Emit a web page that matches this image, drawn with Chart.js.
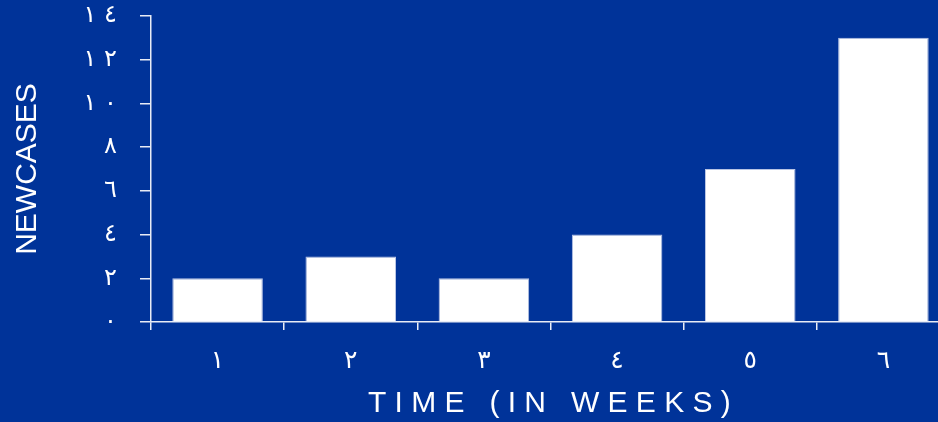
<!DOCTYPE html>
<html><head><meta charset="utf-8">
<script src="https://cdn.jsdelivr.net/npm/chart.js@4"></script>
<style>
html,body{margin:0;padding:0;background:#003399;overflow:hidden;width:938px;height:422px}
#wrap{position:absolute;left:0;top:0;width:960px;height:422px}
</style></head>
<body><div id="wrap"><canvas id="c" width="960" height="422"></canvas></div>
<script>
const categories = ['١','٢','٣','٤','٥','٦'];
const newCases = [2, 3, 2, 4, 7, 13];
const yTickLabels = ['٠','٢','٤','٦','٨','١٠','١٢','١٤'];
const xTitle = 'TIME (IN WEEKS)';
const yTitle = 'NEWCASES';

// wide spacing for the x title (canvas letterSpacing)
const spacingPlugin = {
  id: 'spacing',
  afterUpdate(chart) {
    const x = chart.scales.x;
    if (x && !x._wrapped) {
      const orig = x.drawTitle;
      x.drawTitle = function () {
        const ctx = this.ctx; ctx.save(); ctx.letterSpacing = '8.3px';
        ctx.translate(3, 0);
        orig.call(this); ctx.restore();
      };
      x._wrapped = true;
    }
  }
};

// digits of multi-digit tick labels are shown spread apart (no-break space keeps digit order)
const spreadDigits = (s) => s.split('').join('\u00A0');

new Chart(document.getElementById('c'), {
  type: 'bar',
  data: {
    labels: categories,
    datasets: [{
      data: newCases,
      backgroundColor: '#ffffff',
      borderColor: '#b8c4e4',
      borderWidth: 1,
      barPercentage: 0.68,
      categoryPercentage: 1.0
    }]
  },
  options: {
    responsive: false,
    animation: false,
    layout: { padding: { left: 0, top: 16, right: 10, bottom: 0 } },
    plugins: { legend: { display: false }, tooltip: { enabled: false } },
    scales: {
      x: {
        grid: { display: true, drawOnChartArea: false, drawTicks: true, tickLength: 8, color: '#e8ecf6', lineWidth: 1.5, offset: true },
        border: { display: true, color: '#e8ecf6', width: 1.5 },
        ticks: { color: '#ffffff', font: { family: 'DejaVu Sans', size: 25 }, padding: 16, maxRotation: 0 },
        title: { display: true, text: xTitle, color: '#ffffff', font: { family: '"Liberation Sans", Arial', size: 30 }, padding: { top: 0, bottom: 0 } },
        afterFit(scale) { scale.height = 100; scale.paddingLeft = 0; scale.paddingRight = 0; }
      },
      y: {
        min: 0, max: 14,
        ticks: { stepSize: 2, color: '#ffffff', font: { family: 'DejaVu Sans', size: 24 }, padding: 23,
          callback: (v) => spreadDigits(yTickLabels[Math.round(v / 2)]) },
        grid: { display: true, drawOnChartArea: false, drawTicks: true, tickLength: 11, color: '#e8ecf6', lineWidth: 1.5 },
        border: { display: true, color: '#e8ecf6', width: 1.5 },
        title: { display: true, text: yTitle, color: '#ffffff', font: { family: '"Liberation Sans", Arial', size: 30 }, padding: { top: 10, bottom: 0 } },
        afterFit(scale) { scale.width = 151; scale.paddingTop = 0; scale.paddingBottom = 0; }
      }
    }
  },
  plugins: [spacingPlugin]
});
</script>
</body></html>
